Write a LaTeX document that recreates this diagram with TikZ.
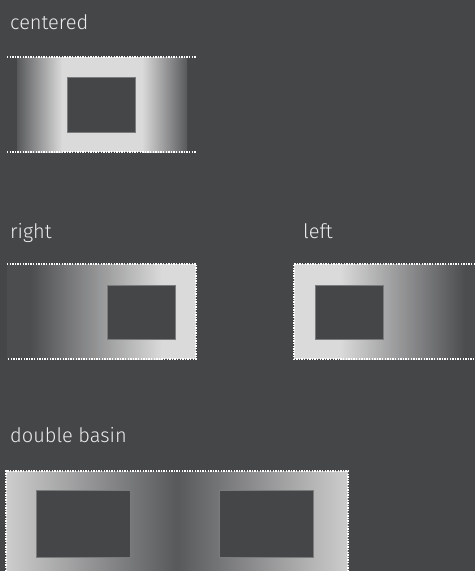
\documentclass[tikz,border=0pt]{standalone}
\usepackage{fontspec}
\setmainfont{Fira Sans Light}
\definecolor{BasinBack}{HTML}{454648}
\definecolor{BasinDim}{HTML}{4C4D4F}
\definecolor{BasinDark}{HTML}{58595B}
\definecolor{BasinLight}{HTML}{DADADA}
\definecolor{BasinPale}{HTML}{CDCDCD}
\definecolor{BasinEdge}{HTML}{7A7B7D}
\definecolor{BasinText}{HTML}{ECECEC}

\begin{document}
\begin{tikzpicture}[x=1pt,y=-1pt,
    caption/.style={anchor=base west,inner sep=0pt,text=BasinText,
      font=\fontsize{20}{24}\selectfont},
    rim/.style={white,line width=1.4pt,dash pattern=on 1.4pt off 1.2pt},
    hole/.style={fill=BasinBack,draw=BasinEdge,line width=0.9pt}]

  \fill[BasinBack] (0,0) rectangle (475,571);
  \useasboundingbox (0,0) rectangle (475,571);

  % centered
  \node[caption] (centeredlabel) at (10,29) {centered};
  \shade[left color=BasinDark,right color=BasinLight]
    (17,57) rectangle (62,152);
  \fill[BasinLight] (62,57) rectangle (142,152);
  \shade[left color=BasinLight,right color=BasinDark]
    (142,57) rectangle (187,152);
  \draw[hole] (67,77) rectangle (135,132);
  \draw[rim] (7,57) -- (196,57);
  \draw[rim] (7,152) -- (196,152);

  % right
  \node[caption] (rightlabel) at (10,238) {right};
  \fill[BasinDim] (7,264) rectangle (30,359);
  \shade[left color=BasinDim,right color=BasinLight]
    (30,264) rectangle (162,359);
  \fill[BasinLight] (162,264) rectangle (196,359);
  \draw[hole] (107,285) rectangle (175,339);
  \draw[rim] (7,264) -- (196,264) -- (196,359) -- (7,359);

  % left
  \node[caption] (leftlabel) at (303,238) {left};
  \fill[BasinLight] (294,264) rectangle (340,359);
  \shade[left color=BasinLight,right color=BasinDim]
    (340,264) rectangle (465,359);
  \fill[BasinDim] (465,264) rectangle (475,359);
  \draw[hole] (315,285) rectangle (383,339);
  \draw[rim] (475,264) -- (294,264) -- (294,359) -- (475,359);

  % double basin
  \node[caption] (doublelabel) at (10,442) {double basin};
  \shade[left color=BasinPale,right color=BasinDark]
    (6,471) rectangle (177,571);
  \shade[left color=BasinDark,right color=BasinPale]
    (177,471) rectangle (348,571);
  \draw[hole] (36,490) rectangle (130,557);
  \draw[hole] (219,490) rectangle (313,557);
  \draw[rim] (6,571) -- (6,471) -- (348,471) -- (348,571);

\end{tikzpicture}
\end{document}
